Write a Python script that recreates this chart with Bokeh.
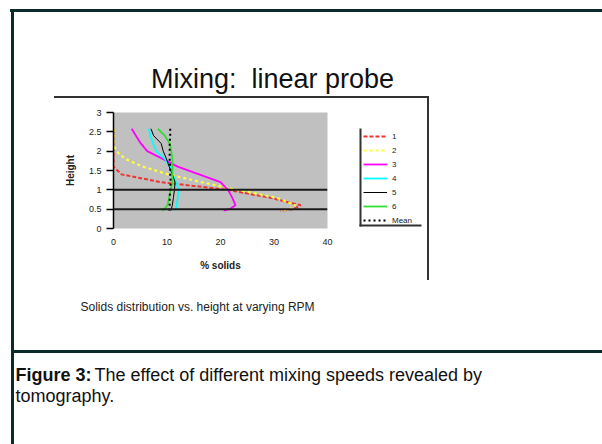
from bokeh.plotting import figure
from bokeh.layouts import column, row
from bokeh.models import (Range1d, Span, Label, BoxAnnotation, Legend, LegendItem,
                          FixedTicker, Div)
from bokeh.embed import file_html
from bokeh.resources import INLINE

# ---------------- data ----------------
title_text = "Mixing:\u00a0 linear probe"
subtitle_text = "Solids distribution vs. height at varying RPM"
caption_bold = "Figure 3:"
caption_rest = "The effect of different mixing speeds revealed by"
caption_line2 = "tomography."
x_label = "% solids"
y_label = "Height"

heights = [2.58, 2.4, 2.2, 2.0, 1.8, 1.6, 1.4, 1.2, 1.0, 0.8, 0.6, 0.5, 0.46]
solids_1 = [0, 0, 0, 0, 0, 0, 1.5, 8.8, 21.3, 29.1, 35.0, 33.5, 31.2]
solids_2 = [0, 0, 0, 0.5, 2.2, 5.5, 10.2, 16.4, 23.1, 30.4, 34.0, 33.0, 31.2]
solids_3 = [3.4, 4.2, 5.1, 6.3, 9.2, 12.0, 16.0, 20.0, 21.4, 22.2, 22.8, 21.7, 20.6]
solids_4 = [6.6, 6.9, 7.4, 8.0, 9.6, 10.5, 11.0, 11.7, 12.2, 12.0, 11.8, 11.6, 11.6]
solids_5 = [7.0, 7.5, 8.9, 9.3, 9.9, 10.4, 11.0, 11.5, 11.4, 11.2, 11.0, 10.8, 10.7]
solids_6 = [8.3, 9.6, 10.5, 10.8, 11.0, 11.0, 11.0, 11.0, 10.7, 10.4, 10.1, 9.5, 9.1]
solids_mean = [10.6, 10.6, 10.5, 10.5, 10.5, 10.6, 10.6, 10.7, 10.6, 10.5, 10.5, 10.4, 10.4]
series_names = ["1", "2", "3", "4", "5", "6", "Mean"]
series_values = [solids_1, solids_2, solids_3, solids_4, solids_5, solids_6, solids_mean]

x_ticks = [0, 10, 20, 30, 40]
y_ticks = [0, 0.5, 1, 1.5, 2, 2.5, 3]
y_tick_labels = ["0", "0.5", "1", "1.5", "2", "2.5", "3"]
ref_heights = [0.5, 1.0]

# ---------------- styles ----------------
styles = [
    dict(color="#ee3333", width=2.0, dash="4 2"),
    dict(color="#ffff33", width=2.2, dash="3 3"),
    dict(color="#ff00ff", width=1.8, dash="solid"),
    dict(color="#00ffff", width=1.8, dash="solid"),
    dict(color="#000000", width=1.0, dash="solid"),
    dict(color="#33dd33", width=1.8, dash="solid"),
    dict(color="#000000", width=2.0, dash="2 3"),
]

FONT = "Liberation Sans"
PAGE = "#0b2b2b"
CH = "#333333"
MID_TOP, MID_BOTTOM = 106, 280           # page rows of the middle band
BORDER_T, FRAME_H, BORDER_B = 6, 116, 52  # shared vertical structure of the middle band

# page decoration strips drawn as the layout's CSS background: (colour, x, y, w, h)
page_strips = [
    (PAGE, 10, 9, 592, 3),     # page top border
    (PAGE, 11, 9, 3, 435),     # page left border
    (PAGE, 11, 350, 591, 3),   # caption separator
    (CH, 54, 96, 375, 2),      # chart top edge
    (CH, 427, 96, 2, 184),     # chart right edge
]


def clear(f):
    f.grid.visible = False
    f.outline_line_color = None
    f.background_fill_alpha = 0
    f.border_fill_alpha = 0
    return f


def deco_fig(x0, x1, y0, y1):
    """Transparent panel whose data coordinates are page pixels (y downward)."""
    f = figure(frame_width=x1 - x0, frame_height=y1 - y0,
               min_border_left=0, min_border_right=0, min_border_top=0, min_border_bottom=0,
               x_range=Range1d(x0, x1), y_range=Range1d(y1, y0),
               x_axis_location=None, y_axis_location=None,
               output_backend="svg", toolbar_location=None)
    return clear(f)


def rect(f, left, right, top, bottom, color):
    f.add_layout(BoxAnnotation(left=left, right=right, top=top, bottom=bottom,
                               fill_color=color, fill_alpha=1.0, line_color=None,
                               line_alpha=0))


def label(f, text, x, y, size, align="left", style="normal", color="#111111"):
    f.add_layout(Label(x=x, y=y, text=text, text_font=FONT, text_font_size=size,
                       text_font_style=style, text_align=align,
                       text_baseline="alphabetic", text_color=color))


def spacer(width):
    return Div(text="", width=width, height=MID_BOTTOM - MID_TOP, margin=0)


# ---------- top band ----------
top = deco_fig(0, 602, 0, MID_TOP)
label(top, title_text, 272, 78, "27px", align="center")

# ---------- left strip ----------
left = spacer(55)

# ---------- main chart ----------
p = figure(frame_width=214, frame_height=FRAME_H,
           min_border_left=58, min_border_right=18,
           min_border_top=BORDER_T, min_border_bottom=BORDER_B,
           x_range=Range1d(0, 40), y_range=Range1d(0, 3),
           output_backend="svg", toolbar_location=None)
p.background_fill_color = "#c0c0c0"
p.border_fill_alpha = 0
p.outline_line_color = None
p.xgrid.visible = False
p.ygrid.visible = False

p.yaxis.ticker = FixedTicker(ticks=y_ticks)
p.yaxis.major_label_overrides = {t: l for t, l in zip(y_ticks, y_tick_labels)}
p.yaxis.axis_line_color = "black"
p.yaxis.axis_line_width = 1.5
p.yaxis.major_tick_line_color = "black"
p.yaxis.major_tick_line_width = 1.5
p.yaxis.major_tick_out = 7
p.yaxis.major_tick_in = 0
p.yaxis.minor_tick_line_color = None
p.yaxis.major_label_standoff = 5
p.yaxis.axis_label = y_label
p.yaxis.axis_label_standoff = 10

p.xaxis.ticker = FixedTicker(ticks=x_ticks)
p.xaxis.axis_line_color = None
p.xaxis.major_tick_line_color = None
p.xaxis.minor_tick_line_color = None
p.xaxis.major_label_standoff = 4
p.xaxis.axis_label = x_label
p.xaxis.axis_label_standoff = 12

for ax in (p.xaxis[0], p.yaxis[0]):
    ax.major_label_text_font = FONT
    ax.major_label_text_font_size = "9px"
    ax.major_label_text_color = "#222222"
    ax.axis_label_text_font = FONT
    ax.axis_label_text_font_size = "10px"
    ax.axis_label_text_font_style = "bold"
    ax.axis_label_text_color = "#222222"

for h in ref_heights:
    p.add_layout(Span(location=h, dimension="width", line_color="#1a1a1a", line_width=2))

for vals, st in zip(series_values, styles):
    p.line(vals, heights, line_color=st["color"], line_width=st["width"],
           line_dash=st["dash"])

# ---------- legend panel (same vertical structure as the chart) ----------
LX0, LX1 = 345, 425
FT, FB = MID_TOP + BORDER_T, MID_TOP + BORDER_T + FRAME_H
leg = figure(frame_width=LX1 - LX0, frame_height=FRAME_H,
             min_border_left=0, min_border_right=0,
             min_border_top=BORDER_T, min_border_bottom=BORDER_B,
             x_range=Range1d(LX0, LX1), y_range=Range1d(FB, FT),
             x_axis_location=None, y_axis_location=None,
             output_backend="svg", toolbar_location=None)
clear(leg)
rect(leg, 359, 361, 128, 226, CH)
rect(leg, 359, 421, 224, 226, CH)
items = []
for name, vals, st in zip(series_names, series_values, styles):
    # legend sample renderers (same styles; their data lies outside this panel's view)
    r = leg.line(vals, heights, line_color=st["color"], line_width=st["width"],
                 line_dash=st["dash"])
    items.append(LegendItem(label=name, renderers=[r]))
legend = Legend(items=items, location=(363 - LX0, FB - 226), orientation="vertical",
                glyph_width=24, glyph_height=12, label_height=12, spacing=2,
                padding=0, margin=0, label_standoff=5,
                label_text_font=FONT, label_text_font_size="8px",
                label_text_color="#222222",
                background_fill_alpha=0, border_line_color=None)
leg.add_layout(legend)

# ---------- right strip ----------
right = spacer(602 - LX1)

# ---------- bottom band ----------
bot = deco_fig(0, 602, MID_BOTTOM, 444)
label(bot, subtitle_text, 80, 306, "12px", color="#222222")
label(bot, caption_bold, 15, 374, "18px", style="bold")
label(bot, caption_rest, 94, 374, "18px")
label(bot, caption_line2, 15, 395, "18px")

background = ", ".join(
    f"linear-gradient({c}, {c}) {x}px {y}px / {w}px {h}px no-repeat"
    for c, x, y, w, h in page_strips) + ", white"

layout = column(top, row(left, p, leg, right, spacing=0), bot, spacing=0,
                styles={"background": background})

open("out.html", "w").write(file_html(layout, INLINE))
